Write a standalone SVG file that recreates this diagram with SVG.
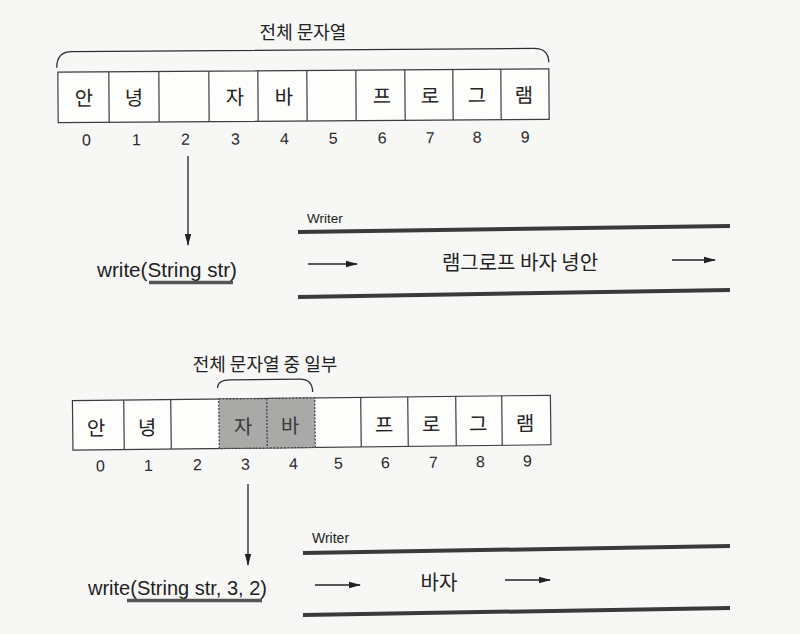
<svg xmlns="http://www.w3.org/2000/svg" width="800" height="634" viewBox="0 0 800 634">
<defs>
<style>
.cell{fill:#fdfdfc;stroke:#3c3c3c;stroke-width:1.2}
.shade{fill:#a9a9a7;stroke:#3c3c3c;stroke-width:1.2;stroke-dasharray:2 1.5}
.sep{stroke:#3c3c3c;stroke-width:1.2}
.ch{font-family:"Noto Sans CJK KR","Noto Sans",sans-serif;font-size:20px;fill:#222;text-anchor:middle}
.chs{fill:#3a3a3a}
.num{font-family:"Liberation Sans",Arial,sans-serif;font-size:16px;fill:#2a2a2a;text-anchor:middle}
.title{font-family:"Noto Sans CJK KR","Noto Sans",sans-serif;font-size:18px;fill:#222;text-anchor:middle}
.brace{fill:none;stroke:#2e2e2e;stroke-width:1.3}
.code{font-family:"Liberation Sans",Arial,sans-serif;font-size:21px;fill:#1e1e1e}
.lbl{font-family:"Liberation Sans",Arial,sans-serif;fill:#222}
.lane{stroke:#3a3a3a;stroke-width:4}
.ul{stroke:#555;stroke-width:3.5}
.arr{stroke:#222;stroke-width:1.3;fill:none;marker-end:url(#ah)}
</style>
<marker id="ah" viewBox="0 0 12 8" refX="11" refY="4" markerWidth="12" markerHeight="8" markerUnits="userSpaceOnUse" orient="auto">
<path d="M0,0.8 L12,4 L0,7.2 Z" fill="#222"/>
</marker>
</defs>
<rect width="800" height="634" fill="#f7f7f6"/>

<g id="title-full"><text class="title" x="303" y="39">전체 문자열</text></g>

<g id="array-full" transform="rotate(-0.4 303 97)">
<path class="brace" d="M57,66 Q57,50 72,50 L534,50 Q549,50 549,64"/>
<rect class="cell" x="58" y="70.5" width="491" height="50.5"/>
<g class="sep">
<line x1="109" y1="70.5" x2="109" y2="121"/><line x1="159" y1="70.5" x2="159" y2="121"/>
<line x1="209" y1="70.5" x2="209" y2="121"/><line x1="258" y1="70.5" x2="258" y2="121"/>
<line x1="307" y1="70.5" x2="307" y2="121"/><line x1="356" y1="70.5" x2="356" y2="121"/>
<line x1="405" y1="70.5" x2="405" y2="121"/><line x1="453" y1="70.5" x2="453" y2="121"/>
<line x1="501" y1="70.5" x2="501" y2="121"/>
</g>
<text class="ch" x="84" y="104">안</text><text class="ch" x="134" y="104">녕</text>
<text class="ch" x="235" y="104">자</text><text class="ch" x="284" y="104">바</text>
<text class="ch" x="382" y="104">프</text><text class="ch" x="430" y="104">로</text>
<text class="ch" x="477" y="104">그</text><text class="ch" x="524" y="104">램</text>
<text class="num" x="86" y="144">0</text><text class="num" x="136" y="144">1</text>
<text class="num" x="185" y="144">2</text><text class="num" x="235" y="144">3</text>
<text class="num" x="284" y="144">4</text><text class="num" x="333" y="144">5</text>
<text class="num" x="382" y="144">6</text><text class="num" x="430" y="144">7</text>
<text class="num" x="477" y="144">8</text><text class="num" x="525" y="144">9</text>
</g>

<g id="call-1">
<text class="code" x="97" y="277" textLength="140" lengthAdjust="spacingAndGlyphs">write(String str)</text>
<line class="ul" x1="149" y1="282.5" x2="233" y2="282.5"/>
</g>

<g id="writer-1">
<text class="lbl" x="307" y="223" font-size="13.5">Writer</text>
<line class="lane" x1="298" y1="232" x2="730" y2="226"/>
<line class="lane" x1="298" y1="297" x2="730" y2="290"/>
<text class="ch" x="520" y="269.5" font-size="19">램그로프 바자 녕안</text>
</g>

<g id="title-part"><text class="title" x="265" y="371">전체 문자열 중 일부</text></g>

<g id="array-part" transform="rotate(-0.65 311 424)">
<path class="brace" d="M218,387 Q218,379 231,379 L300,379 Q313,379 313,392"/>
<rect class="cell" x="72.7" y="398" width="478" height="49.5"/>
<rect class="shade" x="219" y="398" width="96" height="49.5"/>
<g class="sep">
<line x1="124" y1="398" x2="124" y2="447.5"/><line x1="171" y1="398" x2="171" y2="447.5"/>
<line x1="267" y1="398" x2="267" y2="447.5" stroke-dasharray="2 1.5"/>
<line x1="361" y1="398" x2="361" y2="447.5"/><line x1="408" y1="398" x2="408" y2="447.5"/>
<line x1="456" y1="398" x2="456" y2="447.5"/><line x1="502" y1="398" x2="502" y2="447.5"/>
</g>
<text class="ch" x="96" y="433">안</text><text class="ch" x="147" y="433">녕</text>
<text class="ch chs" x="243" y="433">자</text><text class="ch chs" x="290" y="433">바</text>
<text class="ch" x="384" y="433">프</text><text class="ch" x="431" y="433">로</text>
<text class="ch" x="478" y="433">그</text><text class="ch" x="525" y="433">램</text>
<text class="num" x="100" y="469">0</text><text class="num" x="148" y="469">1</text>
<text class="num" x="197" y="469">2</text><text class="num" x="245" y="469">3</text>
<text class="num" x="293" y="469">4</text><text class="num" x="338" y="469">5</text>
<text class="num" x="385" y="469">6</text><text class="num" x="433" y="469">7</text>
<text class="num" x="480" y="469">8</text><text class="num" x="527" y="469">9</text>
</g>

<g id="call-2">
<text class="code" x="88" y="595" textLength="179" lengthAdjust="spacingAndGlyphs">write(String str, 3, 2)</text>
<line class="ul" x1="127" y1="600.5" x2="262" y2="600.5"/>
</g>

<g id="writer-2">
<text class="lbl" x="312" y="543" font-size="14">Writer</text>
<line class="lane" x1="303" y1="553" x2="730" y2="546"/>
<line class="lane" x1="303" y1="615" x2="730" y2="608"/>
<text class="ch" x="439" y="590" font-size="18">바자</text>
</g>

<g id="connectors">
<line class="arr" x1="188" y1="156" x2="188" y2="245"/>
<line class="arr" x1="308" y1="264" x2="357" y2="264"/>
<line class="arr" x1="672" y1="260" x2="715" y2="260"/>
<line class="arr" x1="248" y1="484" x2="248" y2="565"/>
<line class="arr" x1="315" y1="585" x2="360" y2="585"/>
<line class="arr" x1="505" y1="580" x2="550" y2="580"/>
</g>
</svg>
